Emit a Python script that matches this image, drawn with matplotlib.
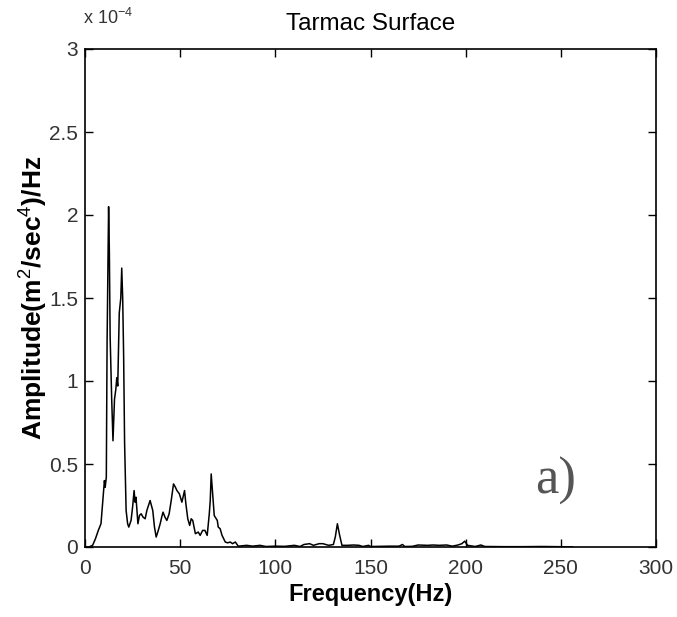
import numpy as np
import matplotlib
matplotlib.use("Agg")
import matplotlib.pyplot as plt

plt.rcParams['font.family'] = ['Liberation Sans', 'DejaVu Sans']
plt.rcParams['mathtext.fontset'] = 'custom'
plt.rcParams['mathtext.rm'] = 'Liberation Sans'
plt.rcParams['mathtext.it'] = 'Liberation Sans:italic'
plt.rcParams['mathtext.bf'] = 'Liberation Sans:bold'

# frequency (Hz) and amplitude (units of 1e-4 m^2/sec^4/Hz)
freq = [0, 2, 4, 5.5, 7, 8.4, 9.5, 10.2, 10.6, 11.2, 11.6, 12.4, 12.8, 13.2,
        14.0, 14.7, 15.5, 16.2, 16.7, 17.2, 18.0, 18.8, 19.3, 19.8, 20.3, 20.8,
        21.6, 22.4, 23.0, 24.2, 25.0, 25.8, 26.3, 26.8, 27.8, 28.6, 29.5, 30.5,
        31.6, 32.5, 34.2, 35.6, 36.5, 37.4, 38.5, 39.5, 40.3, 41.0, 42.0, 43.0,
        44.2, 45.3, 46.5, 47.5, 48.3, 49.6, 50.9, 52.3, 53.0, 54.0, 55.0, 55.8,
        56.6, 58.0, 59.5, 60.5, 61.8, 63.0, 64.2, 65.3, 65.8, 66.3, 66.8, 67.3,
        67.9, 68.4, 69.5, 70.0, 71.0, 72.0, 73.7, 75.0, 76.3, 77.5, 79.0, 80.5,
        85, 88, 92, 95, 100, 105, 110, 113, 115, 118, 120, 123, 125, 128,
        130.5, 131.5, 132.6, 133.8, 135, 138, 141, 144, 146, 149, 150, 155,
        160, 165, 166.8, 168, 172, 175, 180, 183, 186, 190, 193, 196, 198,
        199.5, 201, 205, 208, 210, 220, 230, 240, 250, 256]
amp = [0.0, 0.0, 0.01, 0.05, 0.1, 0.14, 0.3, 0.4, 0.36, 0.42, 1.23, 2.05, 1.78, 1.27,
       0.9, 0.64, 0.89, 0.95, 1.02, 0.97, 1.41, 1.5, 1.68, 1.5, 1.15, 0.63,
       0.22, 0.14, 0.12, 0.16, 0.24, 0.34, 0.27, 0.3, 0.14, 0.19, 0.2, 0.18,
       0.17, 0.22, 0.28, 0.22, 0.12, 0.06, 0.1, 0.14, 0.18, 0.21, 0.18, 0.16,
       0.2, 0.28, 0.38, 0.36, 0.34, 0.32, 0.27, 0.34, 0.26, 0.17, 0.13, 0.17,
       0.16, 0.08, 0.09, 0.07, 0.1, 0.1, 0.07, 0.2, 0.28, 0.44, 0.36, 0.28,
       0.19, 0.18, 0.16, 0.12, 0.11, 0.07, 0.03, 0.025, 0.03, 0.02, 0.03, 0.005,
       0.01, 0.005, 0.01, 0.003, 0.005, 0.004, 0.01, 0.003, 0.015, 0.02, 0.01, 0.02, 0.02, 0.01,
       0.015, 0.06, 0.14, 0.07, 0.01, 0.01, 0.012, 0.01, 0.003, 0.01, 0.003, 0.004,
       0.005, 0.005, 0.015, 0.003, 0.004, 0.012, 0.01, 0.012, 0.01, 0.012, 0.005, 0.012, 0.02,
       0.035, 0.01, 0.003, 0.012, 0.003, 0.002, 0.002, 0.003, 0.002, 0.001]

xticks = [0, 50, 100, 150, 200, 250, 300]
yticks = [0, 0.5, 1, 1.5, 2, 2.5, 3]
ytick_labels = ['0', '0.5', '1', '1.5', '2', '2.5', '3']

fig = plt.figure(figsize=(6.77, 6.17), dpi=100)
ax = fig.add_axes([85 / 677, 70 / 617, 571 / 677, 498 / 617])

ax.plot(freq, amp, color='black', linewidth=1.1)

ax.set_xlim(0, 300)
ax.set_ylim(0, 3)
ax.set_xticks(xticks)
ax.set_yticks(yticks)
ax.set_yticklabels(ytick_labels)
ax.tick_params(direction='in', length=6, width=1, top=True, right=True,
               labelsize=15, labelcolor='#333333')
ax.tick_params(axis='x', pad=9)
ax.tick_params(axis='y', pad=5)
for s in ax.spines.values():
    s.set_linewidth(1.2)

ax.set_title('Tarmac Surface', fontsize=17.5, pad=14)
ax.set_xlabel('Frequency(Hz)', fontsize=17, fontweight='bold', labelpad=3)
ax.set_ylabel('Amplitude(m$^2$/sec$^4$)/Hz', fontsize=19, fontweight='bold', labelpad=-1)

ax.text(-0.003, 1.05, r'x 10$^{-4}$', transform=ax.transAxes, fontsize=13,
        color='#333333', ha='left', va='baseline')
ax.text(0.788, 0.108, 'a)', transform=ax.transAxes, fontsize=38,
        family='Liberation Serif', color='#555555', ha='left', va='baseline')

fig.savefig('out.png', dpi=100)
